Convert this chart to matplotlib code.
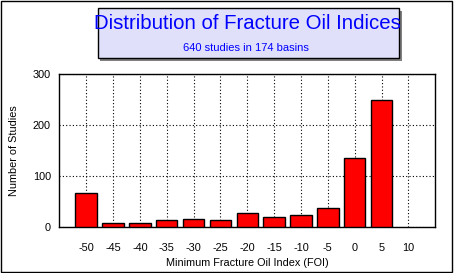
import numpy as np
import matplotlib
matplotlib.use('Agg')
import matplotlib.pyplot as plt
from matplotlib.patches import Rectangle

# data
foi = [-50, -45, -40, -35, -30, -25, -20, -15, -10, -5, 0, 5, 10]
studies = [68, 8, 8, 14, 16, 14, 29, 21, 25, 37, 135, 249, 0]
yticks = [0, 100, 200, 300]

title = 'Distribution of Fracture Oil Indices'
subtitle = '640 studies in 174 basins'

plt.rcParams['font.family'] = ['Liberation Sans', 'DejaVu Sans']

W, H = 454, 273
fig = plt.figure(figsize=(W / 100, H / 100), dpi=100)
fig.patch.set_facecolor('white')

# plot area in pixel coords
x0, x1, y0, y1 = 59.3, 435.3, 74.3, 227.3
ax = fig.add_axes([x0 / W, 1 - y1 / H, (x1 - x0) / W, (y1 - y0) / H])

bars = ax.bar(foi, studies, width=4.0, color='#ff0000', edgecolor='black',
              linewidth=1.0, zorder=3)
for b, v in zip(bars, studies):
    if v == 0:
        b.set_visible(False)
ax.set_xlim(-55, 15)
ax.set_ylim(0, 300)
ax.set_xticks(foi)
ax.set_xticklabels([str(v) for v in foi])
ax.set_yticks(yticks)
ax.grid(True, color='black', linestyle=(0, (1, 2)), linewidth=0.8, zorder=0)
ax.tick_params(length=0, labelsize=7.8, pad=11)
ax.tick_params(axis='y', pad=6)
for s in ax.spines.values():
    s.set_linewidth(1.0)
ax.set_xlabel('Minimum Fracture Oil Index (FOI)', fontsize=7.8, labelpad=4)
ax.set_ylabel('Number of Studies', fontsize=7.8, labelpad=10)

# title box with shadow
bx0, bx1, by0, by1 = 97.7, 399.3, 8.3, 58.3
fig.patches.append(Rectangle(((bx0 + 2.5) / W, 1 - (by1 + 2.5) / H),
                             (bx1 - bx0) / W, (by1 - by0) / H,
                             transform=fig.transFigure, facecolor='#808080',
                             edgecolor='none', zorder=1))
fig.patches.append(Rectangle((bx0 / W, 1 - by1 / H),
                             (bx1 - bx0) / W, (by1 - by0) / H,
                             transform=fig.transFigure, facecolor='#e0e0fa',
                             edgecolor='black', linewidth=1.0, zorder=2))
fig.text(247 / W, 1 - 23.5 / H, title, color='#0000ff', fontsize=14.7,
         ha='center', va='center', zorder=3)
fig.text(246 / W, 1 - 48.3 / H, subtitle, color='#0000ff', fontsize=8,
         ha='center', va='center', zorder=3)

# outer frame
fig.patches.append(Rectangle((0.5 / W, 1.5 / H), (W - 2.5) / W, (H - 2) / H,
                             transform=fig.transFigure, facecolor='none',
                             edgecolor='black', linewidth=1.0, zorder=5))

fig.savefig('out.png', dpi=100)
